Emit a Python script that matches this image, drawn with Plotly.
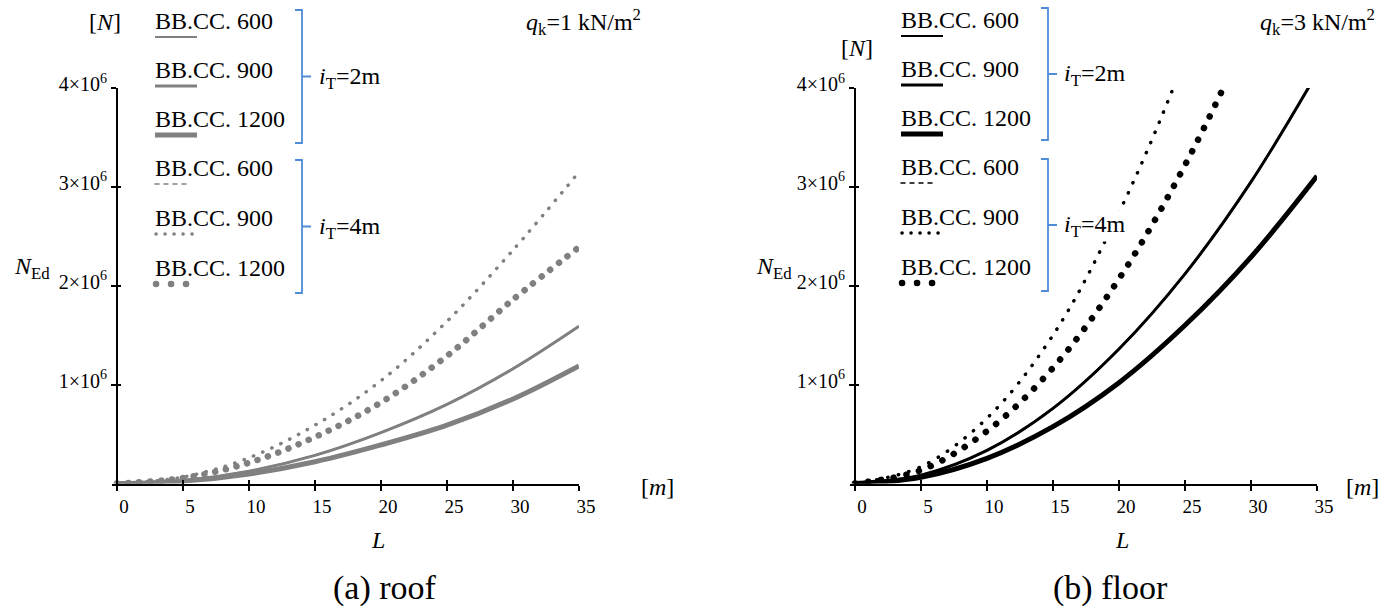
import plotly.graph_objects as go

W, H = 1394, 609

# Span L [m] and design axial force N_Ed [N] of the bracing members
L = [0, 5, 10, 15, 20, 25, 30, 35]

# (a) roof, q_k = 1 kN/m2
roof_2m_600 = [0, 0.031e6, 0.125e6, 0.285e6, 0.515e6, 0.80e6, 1.16e6, 1.59e6]
roof_2m_900 = [0, 0.031e6, 0.125e6, 0.285e6, 0.515e6, 0.80e6, 1.16e6, 1.59e6]
roof_2m_1200 = [0, 0.024e6, 0.097e6, 0.22e6, 0.39e6, 0.59e6, 0.855e6, 1.19e6]
roof_4m_600 = [0, 0.065e6, 0.26e6, 0.59e6, 1.04e6, 1.64e6, 2.36e6, 3.15e6]
roof_4m_900 = [0, 0.065e6, 0.26e6, 0.59e6, 1.04e6, 1.64e6, 2.36e6, 3.15e6]
roof_4m_1200 = [0, 0.055e6, 0.21e6, 0.47e6, 0.82e6, 1.29e6, 1.86e6, 2.39e6]

# (b) floor, q_k = 3 kN/m2
floor_2m_600 = [0, 0.085e6, 0.335e6, 0.76e6, 1.36e6, 2.12e6, 3.05e6, 4.15e6]
floor_2m_900 = [0, 0.085e6, 0.335e6, 0.76e6, 1.36e6, 2.12e6, 3.05e6, 4.15e6]
floor_2m_1200 = [0, 0.064e6, 0.255e6, 0.575e6, 1.02e6, 1.60e6, 2.29e6, 3.11e6]
floor_4m_600 = [0, 0.17e6, 0.66e6, 1.50e6, 2.74e6, 4.30e6, 6.20e6, 8.45e6]
floor_4m_900 = [0, 0.17e6, 0.66e6, 1.50e6, 2.74e6, 4.30e6, 6.20e6, 8.45e6]
floor_4m_1200 = [0, 0.135e6, 0.53e6, 1.17e6, 2.07e6, 3.22e6, 4.62e6, 6.30e6]

series_names = ["BB.CC. 600", "BB.CC. 900", "BB.CC. 1200"]
x_ticks = [0, 5, 10, 15, 20, 25, 30, 35]
y_ticks = [1e6, 2e6, 3e6, 4e6]
y_ticktext = ["1×10<sup>6</sup>", "2×10<sup>6</sup>", "3×10<sup>6</sup>", "4×10<sup>6</sup>"]

FONT = "'Liberation Serif', 'Times New Roman', 'DejaVu Serif', serif"
GREY = "#808080"
BLACK = "#000000"
BLUE = "#4f8bd6"


def px(p):
    return p / W


def py(p):
    return 1 - p / H


fig = go.Figure()

panels = [
    dict(x="x", y="y", xo="x3", yo="y3", color=GREY,
         data=[roof_2m_600, roof_2m_900, roof_2m_1200,
               roof_4m_600, roof_4m_900, roof_4m_1200],
         dot_small=10, dot_big=11),
    dict(x="x2", y="y2", xo="x4", yo="y4", color=BLACK,
         data=[floor_2m_600, floor_2m_900, floor_2m_1200,
               floor_4m_600, floor_4m_900, floor_4m_1200],
         dot_small=11, dot_big=13),
]

for p in panels:
    c = p["color"]
    s, b = p["dot_small"], p["dot_big"]
    styles = [
        dict(width=2, dash="solid"),
        dict(width=3, dash="solid"),
        dict(width=5, dash="solid"),
        dict(width=2, dash=f"1px,{s - 1}px"),
        dict(width=3.5, dash=f"0.1px,{s - 0.1}px"),
        dict(width=6.5, dash=f"0.1px,{b - 0.1}px"),
    ]
    for vals, st in zip(p["data"], styles):
        fig.add_trace(go.Scatter(
            x=L, y=vals, mode="lines", xaxis=p["x"], yaxis=p["y"],
            line=dict(color=c, width=st["width"], dash=st["dash"], shape="spline"),
            showlegend=False, hoverinfo="skip"))
    # companion axes carrying the inner half of the crossing ticks
    fig.add_trace(go.Scatter(x=[], y=[], xaxis=p["xo"], yaxis=p["yo"],
                             showlegend=False, hoverinfo="skip"))

y_dom = [py(483.5), py(88)]
tickfont = dict(family=FONT, size=19, color="black")

common_x = dict(range=[-0.4, 35], showgrid=False, zeroline=False, automargin=False,
                tickvals=x_ticks, fixedrange=True)
common_y = dict(range=[0, 4e6], showgrid=False, zeroline=False, automargin=False,
                tickvals=y_ticks, fixedrange=True)

for xa, ya, xo, yo, x0, yaxpos in [("xaxis", "yaxis", "xaxis3", "yaxis3", 111.7, 117),
                                   ("xaxis2", "yaxis2", "xaxis4", "yaxis4", 849.7, 855)]:
    dom = [px(x0), px(x0 + 35.4 * 13.2)]
    ya_id = "y" if ya == "yaxis" else "y2"
    xa_id = "x" if xa == "xaxis" else "x2"
    yo_id = "y3" if yo == "yaxis3" else "y4"
    fig.update_layout(**{
        xa: dict(common_x, domain=dom, anchor=ya_id, showline=True, linewidth=2,
                 linecolor="black", ticks="outside", ticklen=5, tickwidth=1.5,
                 tickcolor="black", tickfont=tickfont, ticklabelshift=7),
        ya: dict(common_y, domain=y_dom, anchor="free", position=px(yaxpos),
                 showline=True, linewidth=2, linecolor="black", ticks="outside",
                 ticklen=5, tickwidth=1.5, tickcolor="black",
                 ticktext=y_ticktext, ticklabelshift=-4, ticklabelstandoff=0,
                 tickfont=dict(family=FONT, size=20, color="black")),
        xo: dict(common_x, domain=dom, anchor=yo_id, overlaying=xa_id, showline=False,
                 ticks="inside", ticklen=4, tickwidth=1.5, tickcolor="black",
                 showticklabels=False),
        yo: dict(common_y, domain=y_dom, anchor="free", position=px(yaxpos),
                 overlaying=ya_id, showline=False, ticks="inside", ticklen=3,
                 tickwidth=1.5, tickcolor="black", showticklabels=False),
    })

annotations = []
shapes = []


def text(x, y, s, size=24, xanchor="center", yanchor="middle", bg=None):
    ann = dict(x=px(x), y=py(y), xref="paper", yref="paper", text=s,
               showarrow=False, xanchor=xanchor, yanchor=yanchor,
               font=dict(family=FONT, size=size, color="black"))
    if bg:
        ann.update(bgcolor=bg, borderpad=0)
    annotations.append(ann)


def legend_block(x0, ys, color):
    sample_styles = [
        dict(width=2, dash="solid", len=42),
        dict(width=3, dash="solid", len=42),
        dict(width=5, dash="solid", len=42),
        dict(width=1.5, dash="4px,5px", len=36),
        dict(width=3.5, dash="0.1px,8.9px", len=38),
        dict(width=6.5, dash="0.1px,14.9px", len=32),
    ]
    for i, (yc, st) in enumerate(zip(ys, sample_styles)):
        text(x0 - 2, yc, series_names[i % 3], xanchor="left")
        xs = x0 + (1 if i >= 4 else 0)
        shapes.append(dict(type="line", xref="paper", yref="paper",
                           x0=px(xs), x1=px(xs + st["len"]),
                           y0=py(yc + 16), y1=py(yc + 16),
                           line=dict(color=color, width=st["width"], dash=st["dash"])))


def bracket(xv, ytop, ybot, label, lx):
    ym = (ytop + ybot) / 2
    path = (f"M {px(xv - 7)},{py(ytop)} L {px(xv)},{py(ytop)} L {px(xv)},{py(ybot)} "
            f"L {px(xv - 7)},{py(ybot)} M {px(xv)},{py(ym)} L {px(xv + 9)},{py(ym)}")
    shapes.append(dict(type="path", xref="paper", yref="paper", path=path,
                       line=dict(color=BLUE, width=1.8)))
    text(lx, ym + 1, label, xanchor="left", bg="white")


rows = [21, 70, 119, 168, 218, 268]

# (a) roof
legend_block(155, rows, GREY)
bracket(302, 10, 143, "<i>i</i><sub>T</sub>=2m", 318)
bracket(302, 160, 293, "<i>i</i><sub>T</sub>=4m", 318)
text(105, 22, "[<i>N</i>]")
text(643, 22, "<i>q</i><sub>k</sub>=1 kN/m<sup>2</sup>", xanchor="right")
text(32, 268, "<i>N</i><sub>Ed</sub>")
text(657, 487, "[<i>m</i>]")
text(378, 540, "<i>L</i>")
text(385, 588, "(a) roof", size=34)

# (b) floor
legend_block(901, [r - 1 for r in rows], BLACK)
bracket(1048, 8, 140, "<i>i</i><sub>T</sub>=2m", 1063)
bracket(1048, 159, 291, "<i>i</i><sub>T</sub>=4m", 1063)
text(857, 48, "[<i>N</i>]")
text(1377, 22, "<i>q</i><sub>k</sub>=3 kN/m<sup>2</sup>", xanchor="right")
text(774, 268, "<i>N</i><sub>Ed</sub>")
text(1362, 487, "[<i>m</i>]")
text(1122, 540, "<i>L</i>")
text(1110, 588, "(b) floor", size=34)

fig.update_layout(
    template="none",
    width=W, height=H, margin=dict(l=0, r=0, t=0, b=0, pad=0, autoexpand=False),
    paper_bgcolor="white", plot_bgcolor="white",
    annotations=annotations, shapes=shapes,
    font=dict(family=FONT, color="black"),
)

# page without body margin or scrollbars; round caps turn the dotted
# dash patterns into round dots
post = """
document.documentElement.style.margin = '0';
document.documentElement.style.overflow = 'hidden';
document.body.style.margin = '0';
document.body.style.padding = '0';
document.body.style.overflow = 'hidden';
var gd = document.getElementById('{plot_id}');
function roundCaps() {
  gd.querySelectorAll('path').forEach(function (p) {
    var d = p.style.strokeDasharray;
    if (d && d !== 'none') { p.style.strokeLinecap = 'round'; }
  });
}
roundCaps();
gd.on('plotly_afterplot', roundCaps);
"""

fig.write_html("out.html", post_script=post, config={"displayModeBar": False})
